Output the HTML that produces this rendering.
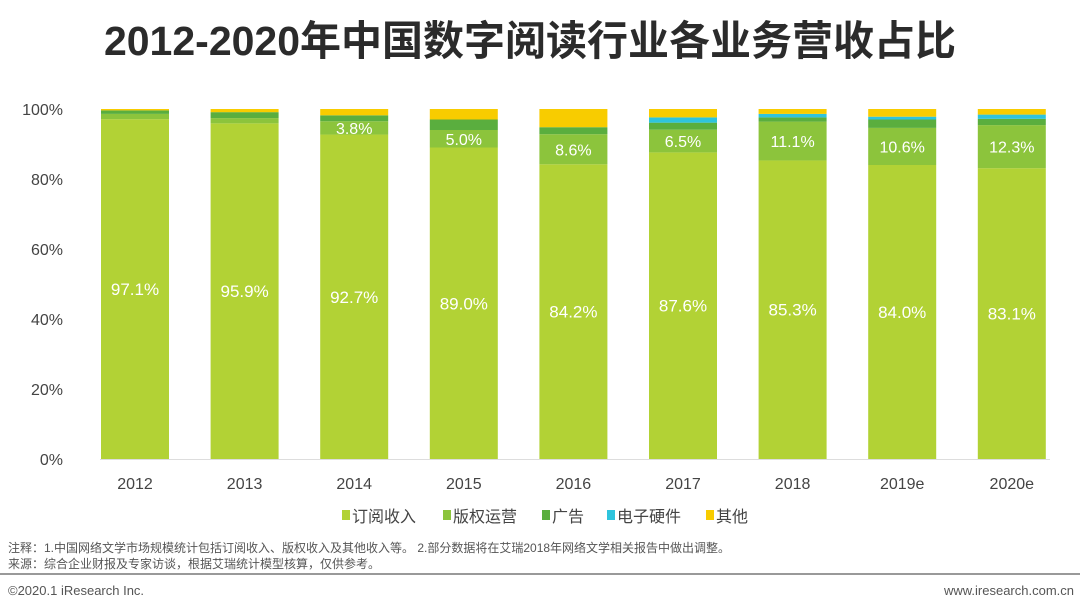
<!DOCTYPE html>
<html><head><meta charset="utf-8"><style>
body{margin:0;width:1080px;height:608px;background:#fff;overflow:hidden;font-family:"Liberation Sans","Noto Sans CJK SC",sans-serif;}
</style></head><body>
<svg width="1080" height="608" id="c" font-family="Liberation Sans, Noto Sans CJK SC, sans-serif">
<text x="530" y="55" text-anchor="middle" font-size="41" font-weight="bold" fill="#2b2b2b">2012-2020年中国数字阅读行业各业务营收占比</text>
<g id="yax"></g><g id="bars"></g><g id="xax"></g>
<g font-size="16" fill="#444">
<rect x="342" y="510" width="8" height="10" fill="#b2d235"/><text x="352" y="522">订阅收入</text>
<rect x="443" y="510" width="8" height="10" fill="#8cc43c"/><text x="453" y="522">版权运营</text>
<rect x="542" y="510" width="8" height="10" fill="#5aae3e"/><text x="552" y="522">广告</text>
<rect x="607" y="510" width="8" height="10" fill="#2ec4dd"/><text x="617" y="522">电子硬件</text>
<rect x="706" y="510" width="8" height="10" fill="#f8cc00"/><text x="716" y="522">其他</text>
</g>
<text x="8" y="552" font-size="12" fill="#555">注释：1.中国网络文学市场规模统计包括订阅收入、版权收入及其他收入等。 2.部分数据将在艾瑞2018年网络文学相关报告中做出调整。</text>
<text x="8" y="568" font-size="12" fill="#555">来源：综合企业财报及专家访谈，根据艾瑞统计模型核算，仅供参考。</text>
<rect x="0" y="573" width="1080" height="2" fill="#999"/>
<text x="8" y="595" font-size="13" fill="#555">©2020.1 iResearch Inc.</text>
<text x="1074" y="595" font-size="13" fill="#555" text-anchor="end">www.iresearch.com.cn</text>
</svg>
<script>
const years=["2012","2013","2014","2015","2016","2017","2018","2019e","2020e"];
const subs=[97.1,95.9,92.7,89.0,84.2,87.6,85.3,84.0,83.1];
const copyright=[1.5,1.5,3.8,5.0,8.6,6.5,11.1,10.6,12.3];
const ads=[1.0,1.7,1.7,3.0,2.0,2.0,1.2,2.4,1.8];
const hardware=[0,0,0,0,0,1.5,1.0,0.8,1.2];
const others=[0.4,0.9,1.8,3.0,5.2,2.4,1.4,2.2,1.6];
const showCopy=[false,false,true,true,true,true,true,true,true];
const yTicks=[0,20,40,60,80,100];
const NS="http://www.w3.org/2000/svg";
const y=v=>459-v*3.5, x=i=>135+i*109.6, bw=68;
function mk(t,a,p){const e=document.createElementNS(NS,t);for(const k in a)e.setAttribute(k,a[k]);document.getElementById(p).appendChild(e);return e;}
yTicks.forEach(t=>{const e=mk("text",{x:63,y:y(t)+6,"text-anchor":"end","font-size":16,fill:"#444"},"yax");e.textContent=t+"%";

});
const ax=mk("line",{x1:100,x2:1050,y1:459.5,y2:459.5,stroke:"#ddd"},"yax");


const series=[[subs,"#b2d235","subscription"],[copyright,"#8cc43c","copyright"],[ads,"#5aae3e","ads"],[hardware,"#2ec4dd","hardware"],[others,"#f8cc00","other"]];
years.forEach((yr,i)=>{let c=0;
series.forEach(([arr,col,nm])=>{const v=arr[i];if(v<=0)return;
const r=mk("rect",{x:x(i)-bw/2,y:y(c+v),width:bw,height:v*3.5,fill:col},"bars");


c+=v;});
const t=mk("text",{x:x(i),y:y(subs[i]/2)+6,"text-anchor":"middle","font-size":17,fill:"#fff"},"bars");t.textContent=subs[i].toFixed(1)+"%";


if(showCopy[i]){const t2=mk("text",{x:x(i),y:y(subs[i]+copyright[i]/2)+6,"text-anchor":"middle","font-size":16,fill:"#fff"},"bars");t2.textContent=copyright[i].toFixed(1)+"%";

}
const xl=mk("text",{x:x(i),y:489,"text-anchor":"middle","font-size":16,fill:"#444"},"xax");xl.textContent=yr;


});
</script>
</body></html>
